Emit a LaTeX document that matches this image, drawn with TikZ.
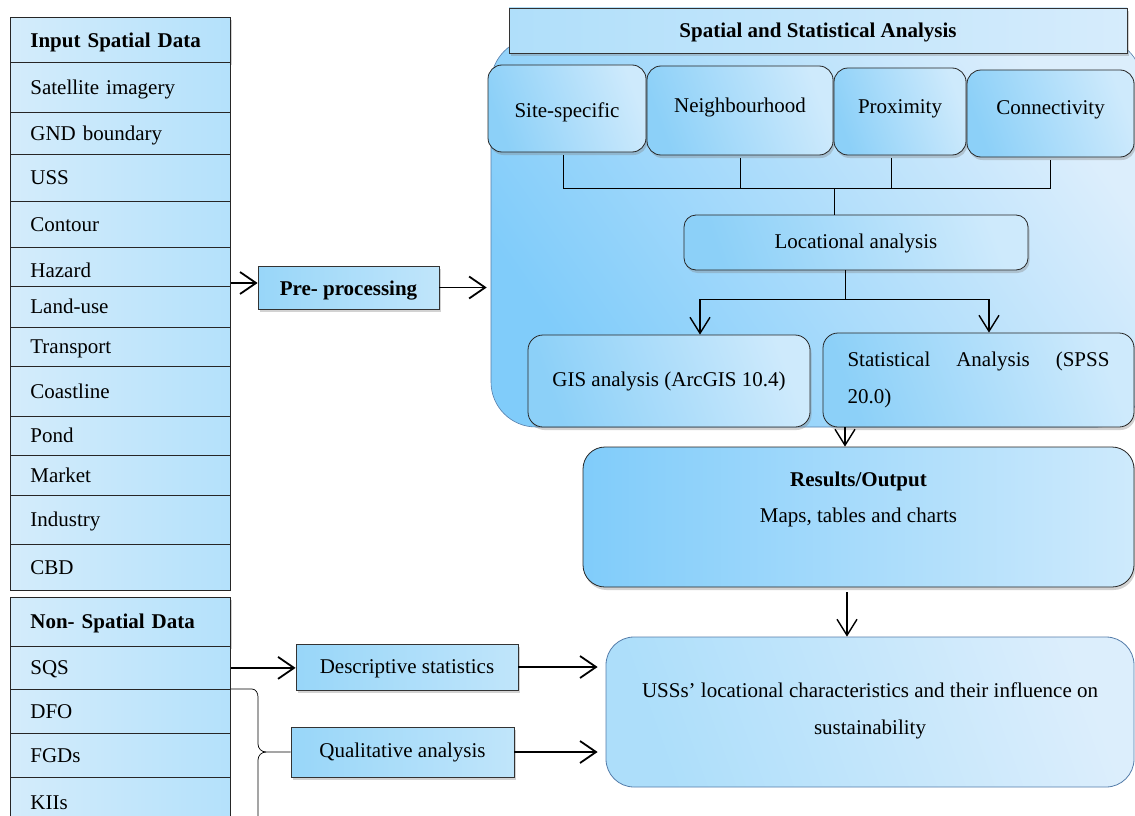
\documentclass[tikz,border=0pt]{standalone}
\usepackage{fontspec}
\setmainfont{Liberation Serif}
\usetikzlibrary{arrows.meta,shadows,calc}
\definecolor{skyA}{RGB}{128,204,250}
\definecolor{skyB}{RGB}{220,238,252}
\definecolor{colA}{RGB}{212,236,251}
\definecolor{colB}{RGB}{180,225,251}
\definecolor{boxA}{RGB}{152,214,249}
\definecolor{boxB}{RGB}{192,229,250}
\definecolor{hbA}{RGB}{176,223,250}
\definecolor{hbB}{RGB}{214,236,252}
\definecolor{rA}{RGB}{140,208,248}
\definecolor{rB}{RGB}{206,234,252}
\definecolor{edgeblue}{RGB}{85,125,170}
\tikzset{
 txt/.style={font=\fontsize{21}{37}\selectfont, inner sep=0pt},
 strut/.style={text height=18pt, text depth=4.5pt},
 shadowed/.style={drop shadow={shadow xshift=1.5pt,shadow yshift=-3pt,opacity=0.35}},
 colitem/.style={txt,strut,draw=black!85,line width=0.8pt,left color=colA,right color=colB,anchor=north west,minimum width=220pt,text width=180pt,align=left},
 colhead/.style={colitem,font=\fontsize{21}{37}\selectfont\bfseries,shadowed},
 sqbox/.style={txt,strut,draw=black!80,line width=0.8pt,left color=boxA,right color=boxB,shadowed},
 hbar/.style={txt,strut,draw=black!80,line width=0.8pt,left color=hbA,right color=hbB,font=\fontsize{21}{37}\selectfont\bfseries,shadowed},
 rbox/.style={txt,draw=black!85,line width=0.8pt,rounded corners=14pt,left color=rA,right color=rB,shading angle=110,shadowed},
 container/.style={draw=edgeblue,line width=0.6pt,rounded corners=45pt,left color=skyA,right color=skyB,shading angle=125},
 harrow/.style={line width=1.8pt,-{Straight Barb[length=16pt,width=22pt]}},
 varrow/.style={line width=1.4pt,-{Straight Barb[length=16pt,width=20pt]}},
 link/.style={line width=0.7pt},
}
\begin{document}
\begin{tikzpicture}[x=1pt,y=-1pt]
\useasboundingbox (0,0) rectangle (1135,816);
\clip (0,0) rectangle (1135,816);
\fill[white] (0,0) rectangle (1135,816);

% left column
\node[colhead, text height=20pt, minimum height=45pt] (inhead) at (10,17) {Input Spatial Data};
\node[colitem, minimum height=50pt] (sat) at (10,62) {Satellite imagery};
\node[colitem, minimum height=42pt] (gnd) at (10,112) {GND boundary};
\node[colitem, minimum height=47pt] (uss) at (10,154) {USS};
\node[colitem, minimum height=46pt] (contour) at (10,201) {Contour};
\node[colitem, text height=25pt, minimum height=39pt] (haz) at (10,247) {Hazard};
\node[colitem, minimum height=41pt] (land) at (10,286) {Land-use};
\node[colitem, minimum height=39pt] (trans) at (10,327) {Transport};
\node[colitem, minimum height=50pt] (coast) at (10,366) {Coastline};
\node[colitem, minimum height=39pt] (pond) at (10,416) {Pond};
\node[colitem, minimum height=40pt] (market) at (10,455) {Market};
\node[colitem, minimum height=49pt] (ind) at (10,495) {Industry};
\node[colitem, minimum height=46pt] (cbd) at (10,544) {CBD};
\node[colhead, minimum height=49pt] (nshead) at (10,597) {Non- Spatial Data};
\node[colitem, minimum height=43pt] (sqs) at (10,646) {SQS};
\node[colitem, minimum height=44pt] (dfo) at (10,689) {DFO};
\node[colitem, minimum height=44pt] (fgd) at (10,733) {FGDs};
\node[colitem, minimum height=50pt] (kii) at (10,777) {KIIs};

% middle boxes
\node[sqbox, font=\fontsize{21}{37}\selectfont\bfseries, text height=20pt, minimum width=181pt, minimum height=43pt] (pre) at (348.5,287.5) {Pre- processing};
\node[sqbox, minimum width=222pt, minimum height=46pt] (desc) at (407,667) {Descriptive statistics};
\node[sqbox, text height=14.5pt, minimum width=223pt, minimum height=50pt] (qual) at (402.5,752) {Qualitative analysis};

% analysis container
\node[container, minimum width=651pt, minimum height=389pt] (frame) at (816.5,232.5) {};
\node[hbar, minimum width=618pt, minimum height=45pt] (sphead) at (818,30.5) {Spatial and Statistical Analysis};

\node[rbox, text height=21.5pt, text depth=4.5pt, minimum width=158pt, minimum height=87pt] (site) at (567,108.5) {Site-specific};
\node[rbox, text height=14.5pt, text depth=11.5pt, minimum width=186pt, minimum height=89pt] (neigh) at (740,110.5) {Neighbourhood};
\node[rbox, text height=14.5pt, text depth=11.5pt, minimum width=132pt, minimum height=87pt] (prox) at (900,111.5) {Proximity};
\node[rbox, text height=14.5pt, text depth=13.5pt, minimum width=167pt, minimum height=87pt] (conn) at (1050.5,113.5) {Connectivity};

\node[rbox, strut, text height=16.5pt, rounded corners=12pt, minimum width=344pt, minimum height=55pt] (loc) at (856,242.5) {Locational analysis};
\node[rbox, strut, text height=14.5pt, rounded corners=15pt, minimum width=282pt, minimum height=92pt] (gis) at (669,381) {GIS analysis (ArcGIS 10.4)};
\node[rbox, rounded corners=15pt, minimum width=311pt, minimum height=94pt, text width=262pt, align=justify] (stat) at (978.5,380) {Statistical\hfill Analysis\hfill (SPSS\\20.0)};

\node[rbox, left color=skyA, right color=rB, rounded corners=22pt, minimum width=551pt, minimum height=140pt, align=center, text depth=40pt] (res) at (858.5,517) {\textbf{Results/Output}\\[-1pt]Maps, tables and charts};
\node[txt, draw=edgeblue, line width=0.8pt, rounded corners=28pt, left color=boxA!80!white, right color=skyB, shading angle=110, align=center, text depth=7pt, minimum width=528pt, minimum height=150pt] (out) at (870,712) {USSs’ locational characteristics and their influence on\\sustainability};

% connectors inside analysis
\coordinate (bus) at (834,188);
\draw[link] ([yshift=-3pt]site.south -| 563,0) -- (bus -| 563,0);
\draw[link] ([yshift=-3pt]neigh.south) -- (neigh.south |- bus);
\draw[link] ([yshift=-3pt]prox.south -| 891,0) -- (bus -| 891,0);
\draw[link] ([yshift=-3pt]conn.south) -- (conn.south |- bus);
\draw[link] (bus -| 563,0) -- (conn.south |- bus);
\draw[link] (bus) -- (bus |- loc.north);

\coordinate (split) at (845,299);
\coordinate (ga) at (700,299);
\coordinate (sa) at (989,299);
\draw[link] (loc.south -| split) -- (split);
\draw[link] (ga) -- (sa);
\draw[varrow] (ga) -- (ga |- gis.north);
\draw[varrow] (sa) -- (sa |- stat.north);
\coordinate (rx) at (845,0);
\draw[varrow] (stat.south -| rx) -- (res.north -| rx);
\coordinate (ox) at (847,0);
\draw[varrow] ([yshift=-5pt]res.south -| ox) -- (out.north -| ox);

% horizontal arrows
\draw[harrow] ([yshift=4.5pt]pre.west -| haz.east) -- ([yshift=4.5pt]pre.west);
\draw[harrow, shorten >=4pt] (pre.east) -- (pre.east -| frame.west);
\draw[harrow] (sqs.east) -- (sqs.east -| desc.west);
\draw[harrow, shorten >=8pt] (desc.east) -- (desc.east -| out.west);
\draw[harrow, shorten >=8pt] (qual.east) -- (qual.east -| out.west);

% brace
\draw[link] (dfo.north east) -- (252,689) to[out=0,in=90] (258,697) -- (258,744) to[out=270,in=180] (266,752) -- (qual.west);
\draw[link] (266,752) to[out=180,in=90] (258,760) -- (258,830);
\end{tikzpicture}
\end{document}
